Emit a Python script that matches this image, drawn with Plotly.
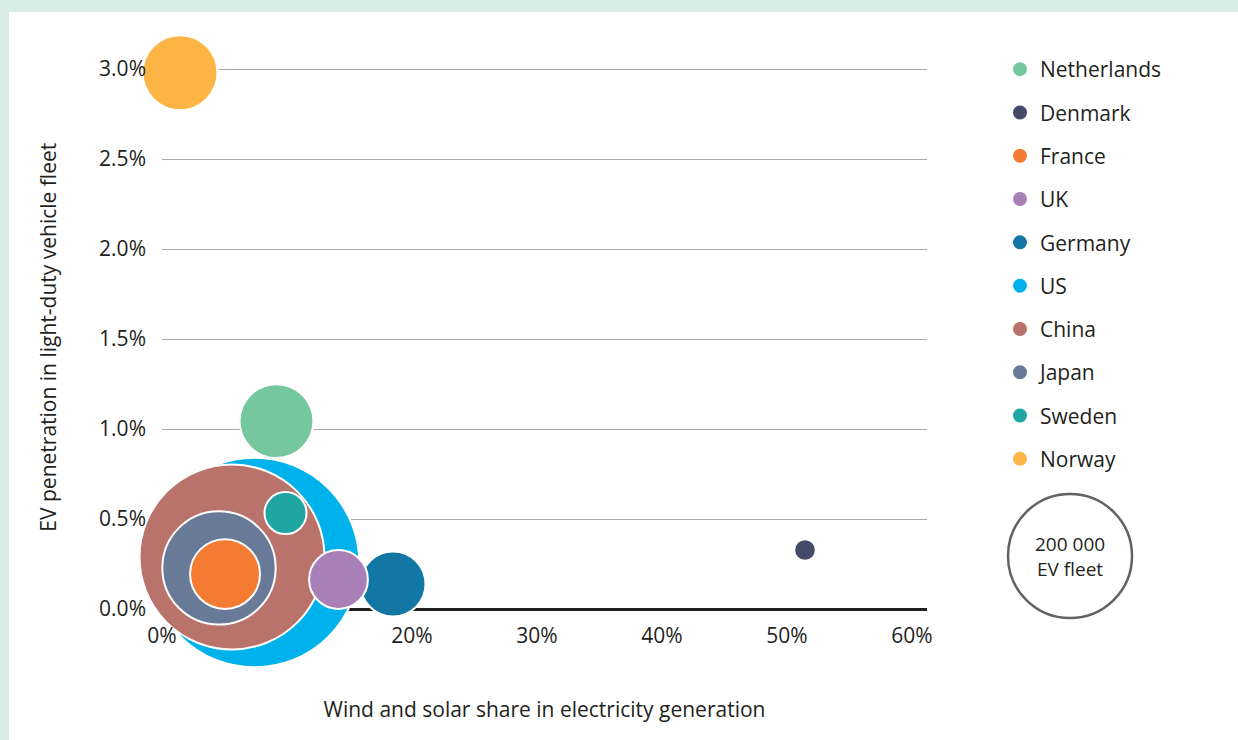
import plotly.graph_objects as go

# ---- data ----
countries = ["US", "China", "Japan", "France", "Sweden", "Germany", "UK", "Netherlands", "Denmark", "Norway"]
wind_solar_share = [7.4, 5.6, 4.56, 5.04, 9.88, 18.48, 14.12, 9.16, 51.44, 1.44]   # %
ev_penetration = [0.258, 0.289, 0.228, 0.194, 0.533, 0.139, 0.164, 1.044, 0.328, 2.98]  # %
ev_fleet = [571000, 445000, 167000, 63500, 23000, 55000, 45000, 71000, 6100, 73000]
colors = ["#00b2eb", "#ba736a", "#697a99", "#f47b32", "#1fa6a2", "#1277a5", "#a97fb8", "#75c89e", "#434b68", "#fcb544"]
legend_order = ["Netherlands", "Denmark", "France", "UK", "Germany", "US", "China", "Japan", "Sweden", "Norway"]

x_ticks = [0, 20, 30, 40, 50, 60]
x_ticktext = ["0%", "20%", "30%", "40%", "50%", "60%"]
y_ticks = [0, 0.5, 1.0, 1.5, 2.0, 2.5, 3.0]
y_ticktext = ["0.0%", "0.5%", "1.0%", "1.5%", "2.0%", "2.5%", "3.0%"]

ref_fleet = 200000
ref_label = "200 000<br>EV fleet"

FONT = "Open Sans"
FS = 21
TXT = "#231f20"
W, H = 1238, 740
ref_diam = 124
sizeref = 2.0 * ref_fleet / ref_diam ** 2

# plot area in pixels
PX0, PX1 = 162, 927
PY_ZERO, PY_TOP = 609, 65.4   # y=0 line, top of range (3.02)


def fx(p):
    return p / W


def fy(p):
    return (H - p) / H


fnt = dict(family=FONT, size=FS, color=TXT)

fig = go.Figure()

for c, x, y, s, col in zip(countries, wind_solar_share, ev_penetration, ev_fleet, colors):
    fig.add_trace(go.Scatter(
        x=[x], y=[y], mode="markers", name=c,
        legendgroup=c, legendrank=legend_order.index(c) + 1,
        marker=dict(size=[s], sizemode="area", sizeref=sizeref, color=col,
                    opacity=1, line=dict(color="white", width=2)),
        cliponaxis=False, hoverinfo="name",
    ))

# size key bubble on its own hidden axes
fig.add_trace(go.Scatter(
    x=[0.5], y=[0.5], mode="markers", showlegend=False, xaxis="x2", yaxis="y2",
    marker=dict(size=[ref_fleet], sizemode="area", sizeref=sizeref, color="white",
                line=dict(color=TXT, width=2.5)),
    cliponaxis=False, hoverinfo="skip",
))
fig.add_annotation(x=0.5, y=0.5, xref="x2", yref="y2", text=ref_label, showarrow=False,
                   font=dict(family=FONT, size=19, color=TXT))

# white panel over mint background
fig.add_shape(type="rect", xref="paper", yref="paper",
              x0=fx(9), x1=1.0, y0=0.0, y1=fy(12),
              fillcolor="white", line=dict(width=0), layer="below")

fig.update_layout(
    width=W, height=H,
    margin=dict(l=0, r=0, t=0, b=0, autoexpand=False),
    paper_bgcolor="#d8ede5", plot_bgcolor="white",
    font=fnt,
    showlegend=True,
    legend=dict(x=fx(1000), xanchor="left", y=fy(49), yanchor="top",
                font=fnt, maxheight=1.0,
                tracegroupgap=13, bgcolor="rgba(0,0,0,0)", itemsizing="trace"),
    xaxis=dict(domain=[fx(PX0), fx(PX1)], range=[0, 61.2],
               tickvals=x_ticks, ticktext=x_ticktext,
               showgrid=False, zeroline=False, showline=False,
               ticks="", ticklabelstandoff=12, tickfont=fnt,
               title=dict(text="Wind and solar share in electricity generation",
                          standoff=54, font=fnt)),
    yaxis=dict(domain=[fy(PY_ZERO), fy(PY_TOP)], range=[0, 3.02],
               tickvals=y_ticks, ticktext=y_ticktext,
               showgrid=True, gridcolor="#a7a9ac", gridwidth=1.3,
               zeroline=True, zerolinecolor=TXT, zerolinewidth=2.5,
               showline=False, ticks="", ticklabelstandoff=15, tickfont=fnt,
               title=dict(text="EV penetration in light-duty vehicle fleet",
                          standoff=36, font=fnt)),
    xaxis2=dict(domain=[fx(1000), fx(1140)], range=[0, 1], visible=False,
                anchor="y2", fixedrange=True),
    yaxis2=dict(domain=[fy(626), fy(486)], range=[0, 1], visible=False,
                anchor="x2", fixedrange=True),
)

fig.write_html("out.html", config={"displayModeBar": False},
               post_script="document.body.style.margin='0px';")
